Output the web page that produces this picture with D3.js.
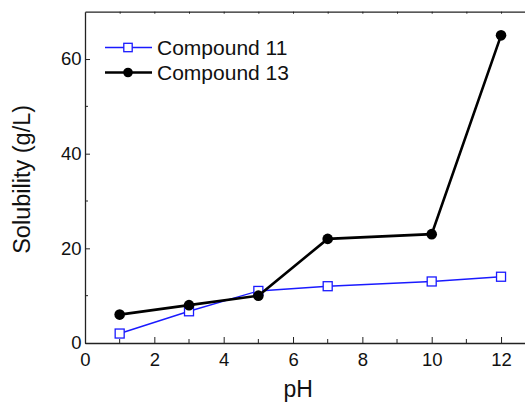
<!DOCTYPE html>
<html>
<head>
<meta charset="utf-8">
<script src="https://cdn.jsdelivr.net/npm/d3@7"></script>
<style>
  html, body { margin: 0; padding: 0; background: #fff; }
  svg { display: block; font-family: "Liberation Sans", Arial, sans-serif; }
</style>
</head>
<body>
<svg id="chart" width="525" height="403"></svg>
<script>
const pH = [1, 3, 5, 7, 10, 12];
const compound11 = [2, 6.7, 11, 12, 13, 14];
const compound13 = [6, 8, 10, 22, 23, 65];
const seriesNames = ["Compound 11", "Compound 13"];
const xTicks = [0, 2, 4, 6, 8, 10, 12];
const yTicks = [0, 20, 40, 60];
const xLabel = "pH";
const yLabel = "Solubility (g/L)";

const svg = d3.select("#chart");
const x = d3.scaleLinear().domain([0, 13]).range([85, 85 + 13 * 34.67]);
const y = d3.scaleLinear().domain([0, 70]).range([343, 11.7]);

const axisColor = "#222";
const FF = "'Liberation Sans', Arial, sans-serif";

const g = svg.append("g");
// left axis
const yAxis = d3.axisLeft(y).tickValues(yTicks).tickSize(-5).tickPadding(3).tickSizeOuter(0);
const ga = g.append("g").attr("transform", `translate(${x(0)},0)`).call(yAxis);
ga.select(".domain").attr("stroke", axisColor).attr("stroke-width", 1.3);
ga.selectAll(".tick line").attr("stroke", axisColor).attr("stroke-width", 1);
ga.selectAll(".tick text").attr("font-size", 18.5).attr("fill", "#111")
  .attr("font-family", FF).attr("dx", -0.5);
g.append("g").selectAll("line").data([10, 30, 50]).join("line")
  .attr("x1", x(0)).attr("x2", x(0) + 3)
  .attr("y1", d => y(d)).attr("y2", d => y(d))
  .attr("stroke", axisColor).attr("stroke-width", 1);

// bottom axis
const xAxis = d3.axisBottom(x).tickValues(xTicks).tickSize(-6).tickPadding(10).tickSizeOuter(0);
const gb = g.append("g").attr("transform", `translate(0,${y(0)})`).call(xAxis);
gb.select(".domain").attr("stroke", axisColor).attr("stroke-width", 1.3);
gb.selectAll(".tick line").attr("stroke", axisColor).attr("stroke-width", 1);
gb.selectAll(".tick text").attr("font-size", 18.5).attr("fill", "#111")
  .attr("font-family", FF);
g.append("g").selectAll("line").data([1, 3, 5, 7, 9, 11]).join("line")
  .attr("x1", d => x(d)).attr("x2", d => x(d))
  .attr("y1", y(0)).attr("y2", y(0) - 4)
  .attr("stroke", axisColor).attr("stroke-width", 1);

// top axis
const xAxisTop = d3.axisTop(x).tickValues(d3.range(1, 13)).tickSize(-2).tickFormat("").tickSizeOuter(0);
const gt = g.append("g").attr("transform", `translate(0,${y(70)})`).call(xAxisTop);
gt.select(".domain").attr("stroke", axisColor).attr("stroke-width", 1.3);
gt.selectAll(".tick line").attr("stroke", axisColor).attr("stroke-width", 1);

// axis titles
svg.append("text").attr("x", x(6.15)).attr("y", 397).attr("text-anchor", "middle")
  .attr("font-family", FF).attr("font-size", 23).attr("fill", "#111").text(xLabel);
svg.append("text").attr("transform", `translate(30,${(y(0) + y(70)) / 2 + 2}) rotate(-90)`)
  .attr("text-anchor", "middle").attr("font-family", FF).attr("font-size", 23.5)
  .attr("fill", "#111").text(yLabel);

const blue = "#1a1aff";
const line = d3.line().x(d => x(d[0])).y(d => y(d[1]));
const d11 = pH.map((p, i) => [p, compound11[i]]);
const d13 = pH.map((p, i) => [p, compound13[i]]);

// Compound 11
svg.append("path").datum(d11).attr("d", line).attr("fill", "none")
  .attr("stroke", blue).attr("stroke-width", 1.4);
const sq = 9;
svg.append("g").selectAll("rect").data(d11).join("rect")
  .attr("x", d => x(d[0]) - sq / 2).attr("y", d => y(d[1]) - sq / 2)
  .attr("width", sq).attr("height", sq)
  .attr("fill", "#fff").attr("stroke", blue).attr("stroke-width", 1.3);

// Compound 13
svg.append("path").datum(d13).attr("d", line).attr("fill", "none")
  .attr("stroke", "#000").attr("stroke-width", 2.6);
svg.append("g").selectAll("circle").data(d13).join("circle")
  .attr("cx", d => x(d[0])).attr("cy", d => y(d[1])).attr("r", 5.3)
  .attr("fill", "#000");

// legend
const leg = svg.append("g");
const legY = [47.5, 72.5];
leg.append("line").attr("x1", 105).attr("x2", 152).attr("y1", legY[0]).attr("y2", legY[0])
  .attr("stroke", blue).attr("stroke-width", 1.4);
leg.append("rect").attr("x", 128 - 4.2).attr("y", legY[0] - 4.2).attr("width", 8.4).attr("height", 8.4)
  .attr("fill", "#fff").attr("stroke", blue).attr("stroke-width", 1.3);
leg.append("line").attr("x1", 105).attr("x2", 152).attr("y1", legY[1]).attr("y2", legY[1])
  .attr("stroke", "#000").attr("stroke-width", 2.6);
leg.append("circle").attr("cx", 128).attr("cy", legY[1]).attr("r", 4.8).attr("fill", "#000");
leg.selectAll("text").data(seriesNames).join("text")
  .attr("x", 157).attr("y", (d, i) => legY[i] + 7.5)
  .attr("font-family", FF).attr("font-size", 21).attr("fill", "#111").text(d => d);
</script>
</body>
</html>
